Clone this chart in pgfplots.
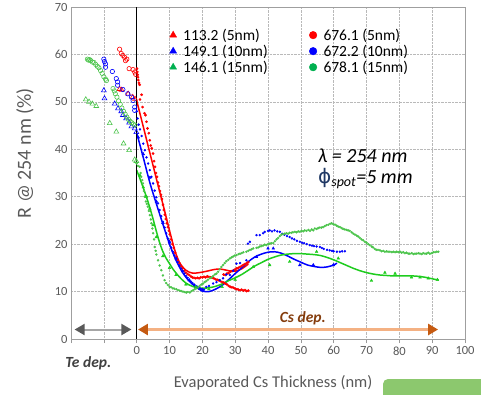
\documentclass[border=0pt]{standalone}
\usepackage{fontspec}
\setmainfont{Carlito}
\newfontfamily\dejavu{DejaVu Sans}
\usepackage{pgfplots}
\pgfplotsset{compat=1.18}
\usetikzlibrary{arrows.meta}
\definecolor{tgray}{HTML}{595959}
\definecolor{cred}{HTML}{FF0000}
\definecolor{cblue}{HTML}{0000FF}
\definecolor{cgreen}{HTML}{1ECC1E}
\definecolor{cgreendot}{HTML}{4CC44C}
\definecolor{lgreen}{HTML}{00B050}
\definecolor{cbrown}{HTML}{843C0C}
\definecolor{corange}{HTML}{C55A11}
\definecolor{lorange}{HTML}{F4B183}
\definecolor{phiblue}{HTML}{1F3864}
\definecolor{btngreen}{HTML}{8CC86E}
\begin{document}
\begin{tikzpicture}[x=1pt,y=1pt]
\begin{axis}[
  at={(71pt,55pt)}, anchor=south west,
  scale only axis, width=394pt, height=332pt,
  xmin=-20, xmax=100, ymin=0, ymax=70,
  xtick={-20,-10,...,100},
  xticklabels={,,0,10,20,30,40,50,60,70,80,90,100},
  ytick={0,10,...,70},
  xtick pos=bottom, xtick align=outside, major tick length=4pt,
  ytick style={draw=none},
  xtick style={gray!80, line width=0.6pt},
  grid=major,
  major grid style={densely dotted, gray!55, line width=0.6pt},
  axis line style={gray!75, line width=0.7pt},
  tick label style={font=\fontsize{12.5pt}{14pt}\selectfont, text=tgray},
  /pgf/number format/assume math mode=true,
  xlabel={Evaporated Cs Thickness (nm)},
  ylabel={R @ 254 nm (\%)},
  xlabel style={font=\fontsize{16.5pt}{18pt}\selectfont, text=tgray, at={(axis description cs:0.513,-0.1325)}, anchor=center},
  ylabel style={font=\fontsize{20pt}{22pt}\selectfont, text=tgray, at={(axis description cs:-0.117,0.56)}, anchor=center},
  clip=false,
  legend columns=2,
  legend style={at={(axis description cs:0.25,0.94)}, anchor=north west,
    draw=none, fill=none, inner sep=0pt,
    font=\fontsize{15.5pt}{17pt}\selectfont,
    nodes={inner sep=1.6pt},
    /tikz/every odd column/.append style={column sep=5pt},
    /tikz/every even column/.append style={column sep=40pt}},
  legend cell align=left,
  legend image code/.code={\draw[mark repeat=2,mark phase=2] plot coordinates {(0pt,0pt)(6pt,0pt)(12pt,0pt)};},
]
% ---- Te dep. region (open markers)
\addplot[only marks, mark=o, mark size=2.2pt, cred, line width=0.6pt, forget plot] coordinates {
(-5.2,61.1)(-4.7,60.2)(-4.2,59.8)(-3.7,59.4)(-3.4,58.7)(-3.0,59.0)(-2.3,57.0)(-1.1,56.8)(-0.6,56.3)(-0.3,55.8)};
\addplot[only marks, mark=triangle, mark size=2.8pt, cred, line width=0.6pt, forget plot] coordinates {
(-5.2,52.7)(-4.6,52.5)(-2.6,51.7)(-1.2,51.0)(-0.5,50.6)};
\addplot[only marks, mark=o, mark size=2.2pt, cblue, line width=0.6pt, forget plot] coordinates {
(-10,59.0)(-9.8,58.5)(-9.5,58.0)(-9.5,57.3)(-7.4,56.4)(-6.2,54.9)(-5.8,54.2)(-5.8,53.5)(-4.2,52.6)(-2.7,51.7)(-1.6,51.0)(-1.1,50.3)(-0.6,48.9)(-0.6,48.2)};
\addplot[only marks, mark=triangle, mark size=2.8pt, cblue, line width=0.6pt, forget plot] coordinates {
(-10,52.4)(-9.8,50.7)(-6.7,49.6)(-5.7,48.6)(-4.7,48.0)(-4.2,47.2)(-3.2,46.5)(-2.3,45.6)(-1.6,44.8)(-0.6,44.4)(-0.1,43.6)};
\addplot[only marks, mark=o, mark size=2.2pt, cgreendot, line width=0.6pt, forget plot] coordinates {
(-15,59.0)(-14.7,58.8)(-14.3,58.9)(-14,58.7)(-13.5,58.4)(-13,58.3)(-12.5,57.9)(-12,57.5)(-11.5,57.2)(-11,56.6)(-10.5,56.0)(-10,55.3)(-9.5,54.8)(-9.2,54.5)
(-7.2,52.8)(-6.8,52.3)(-6.5,51.7)(-6,51.0)(-5.5,50.2)(-5,49.5)(-4.5,48.7)(-4,48.0)(-3.5,47.4)(-3,46.8)(-2.5,46.3)(-2,45.9)(-1.5,45.6)(-1,45.3)(-0.5,45.1)};
\addplot[only marks, mark=triangle, mark size=2.8pt, cgreendot, line width=0.6pt, forget plot] coordinates {
(-15.5,50.5)(-14.5,50.0)(-13.5,49.6)(-12.3,49.1)(-8.2,45.5)(-6.2,43.7)(-4.0,41.2)(-2.3,39.8)(-0.6,37.8)(-0.1,37.5)};
% ---- Cs dep. region: dots (676.x series)
\addplot[only marks, mark=*, mark size=1.15pt, cred, forget plot] coordinates {
(0.1,57.0)(0.2,56.3)(0.3,55.7)(0.4,55.2)(0.5,54.6)(0.7,54.0)(0.9,53.6)(1.0,50.5)(1.5,51.5)(1.8,48.9)(2.4,47.6)(2.7,47.2)(3.0,45.8)(3.3,44.4)(3.7,43.4)(4.0,41.9)(4.3,40.8)(4.6,40.2)(5.0,39.1)(5.3,37.5)(5.6,36.3)(5.9,35.0)(6.2,34.2)(6.5,33.0)(6.8,32.2)(7.1,31.2)(7.4,30.4)(7.7,29.5)(8.0,28.3)(8.3,27.2)(8.6,26.2)(8.9,25.3)(9.2,24.4)(9.5,23.6)(9.8,22.8)(10.1,22.1)(10.5,21.0)(10.9,20.0)(11.3,19.2)(11.7,18.2)(12.1,17.3)(12.5,16.7)(13.0,16.0)(13.5,15.3)(14.0,14.9)(14.5,14.4)(15.0,14.0)(15.5,13.7)(16.0,13.5)(16.5,13.2)(17.0,13.0)(17.5,12.9)(18.0,12.8)(18.5,12.9)(19.0,12.8)(19.5,13.0)(20.0,13.0)(20.5,13.1)(21.0,13.0)(21.5,13.2)(22.0,13.1)(22.5,13.0)(23.0,12.9)(23.5,12.8)(24.0,12.6)(24.5,12.5)(25.0,12.4)(25.5,12.2)(26.0,12.0)(26.5,11.9)(27.0,11.7)(27.5,11.5)(28.0,11.2)(28.5,11.0)(29.0,10.9)(29.5,10.8)(30.0,10.6)(30.5,10.5)(31.0,10.4)(31.5,10.3)(32.0,10.4)(32.5,10.2)(33.0,10.3)(33.5,10.1)(34.0,10.2)
(26.5,13.6)(27.0,13.5)(27.5,13.8)(28.0,13.9)(28.5,14.2)(29.0,14.3)(29.5,14.5)(30.0,14.7)(30.5,14.9)(31.0,15.0)(31.5,15.2)(32.0,15.4)(32.5,15.6)(33.0,15.8)(33.5,16.0)(34.0,16.2)};
\addplot[only marks, mark=*, mark size=1.0pt, cblue, forget plot] coordinates {
(0,48.0)(0.3,46.5)(0.6,45.2)(1,44.2)(1.5,42.8)(2,41.2)(2.5,39.8)(3,38.3)(3.5,37.0)(4,35.6)(4.5,34.2)(5,32.8)(5.5,31.3)(6,29.9)(6.5,28.6)(7,27.2)(7.5,25.9)(8,24.7)(8.5,23.5)(9,22.3)(9.5,21.2)(10,20.2)(10.5,19.3)(11,18.4)(11.5,17.6)(12,16.9)(12.5,16.2)(13,15.5)(13.5,14.9)(14,14.3)(14.5,13.8)(15,13.3)(15.5,12.9)(16,12.5)(16.5,12.1)(17,11.8)(17.5,11.5)(18,11.2)(18.5,11.0)(19,10.8)(19.5,10.6)(20,10.5)(20.5,10.4)(21.2,11.0)(22,11.2)(23.3,11.7)(24.3,12.0)(25.3,12.4)(26.3,12.8)(27.3,13.6)(28.4,13.5)(29.4,14.4)(30.4,15.9)(31.5,16.0)(33.4,16.6)(33.9,20.1)(34.5,20.5)(36.5,21.9)(37.5,21.9)(38.5,22.3)(39,22.6)(40,22.8)(40.5,22.9)(41.2,22.7)(42,22.9)(42.8,22.7)(43.6,22.6)(44.3,22.2)(45,22.0)(45.8,21.7)(46.6,21.5)(47.3,21.2)(48,21.0)(48.8,20.7)(49.7,20.5)(50.4,20.3)(51,20.2)(51.8,20.0)(52.7,19.8)(53.4,19.7)(54,19.6)(54.8,19.5)(55.8,19.4)(56.4,19.2)(57,19.0)(58,18.8)(58.8,18.7)(59.5,18.6)(60,18.5)(61,18.4)(61.9,18.4)(62.6,18.5)(63.4,18.5)};
\addplot[only marks, mark=*, mark size=1.0pt, cgreendot, forget plot] coordinates {
(0,37)(0.4,36.5)(0.9,36.3)(1.2,35)(1.4,34.2)(1.7,33.5)(1.9,32.8)(2.2,31.2)(2.4,30)(2.8,29)(3.1,28.5)(3.4,27.9)(3.7,27)(4,26.1)(4.3,25.2)(4.5,24.4)(4.8,23.3)(5,22.3)(5.3,21)(5.5,19.4)(5.8,18.6)(6,17.8)(6.5,16.6)(7,15.5)(7.5,14.5)(8,13.4)(8.5,12.4)(9,11.8)(9.5,11.4)(10,11.0)(10.5,10.9)(11,10.7)(11.5,10.6)(12.1,10.5)(12.6,10.3)(13.1,10.2)(13.6,10.1)(14.1,10.0)(14.6,9.9)(15.1,9.8)(15.6,9.9)(16.2,9.8)(16.7,10.1)(17.2,10.3)(17.7,10.5)(18.2,10.7)(18.7,10.9)(19.2,11.2)(19.7,11.5)(20.2,11.7)(20.7,12.0)(21.2,12.2)(21.7,12.5)(22.3,12.8)(22.8,13.0)(23.3,13.3)(23.8,13.6)(24.3,13.8)(24.8,14.2)(25.3,14.7)(25.8,15.2)(26.3,15.6)(26.8,16.0)(27.3,16.4)(27.9,16.7)(28.4,17.0)(28.9,17.2)(29.4,17.4)(29.9,17.6)(30.4,17.7)(31,17.9)(31.5,18.0)(32,18.1)(32.5,18.3)(33.4,18.4)(34,18.6)(34.5,18.8)(35,18.9)(35.5,19.1)(36.5,19.2)(37,19.3)(37.5,19.5)(38,19.6)(38.5,19.7)(39,19.9)(39.5,19.8)(40,20.0)(40.5,20.1)(41,20.2)(41.6,20.2)(42.1,20.6)(42.6,21.0)(43.1,21.3)(43.6,21.7)(44.1,22.0)(44.6,22.1)(45.1,22.2)(45.6,22.3)(46.1,22.2)(46.6,22.4)(47.1,22.4)(47.6,22.5)(48.2,22.6)(48.7,22.5)(49.2,22.7)(49.7,22.6)(50.2,22.8)(50.7,22.7)(51.2,22.9)(51.7,22.8)(52.3,23.0)(52.8,22.8)(53.3,23.1)(53.8,22.9)(54.3,23.3)(54.8,23.2)(55.3,23.4)(55.8,23.5)(56.3,23.5)(56.8,23.6)(57.3,23.8)(57.8,24.0)(58.4,24.1)(58.9,24.3)(59.4,24.4)(59.9,24.2)(60.4,24.1)(60.9,23.9)(61.4,23.7)(61.9,23.6)(62.4,23.4)(62.9,23.2)(63.4,23.1)(63.9,23.0)(64.4,22.9)(64.9,22.8)(65.5,22.5)(66,22.2)(66.5,22.0)(67,21.8)(67.5,21.6)(68,21.3)(68.5,21.0)(69,20.8)(69.5,20.5)(70,20.3)(70.5,20.0)(71,19.8)(71.6,19.5)(72,19.3)(72.5,19.0)(73,18.8)(73.5,18.8)(74.1,18.7)(74.6,18.5)(75.1,18.6)(75.6,18.4)(76.1,18.5)(76.6,18.4)(77.1,18.4)(77.7,18.3)(78.2,18.4)(78.7,18.3)(79.2,18.4)(79.7,18.3)(80.2,18.4)(80.7,18.2)(81.2,18.3)(81.7,18.1)(82.2,18.2)(82.7,18.0)(83.2,18.0)(83.8,18.1)(84.3,17.9)(84.8,18.0)(85.3,18.0)(85.8,18.1)(86.3,18.0)(86.8,17.9)(87.3,18.1)(87.8,18.0)(88.3,18.0)(88.8,18.2)(89.3,18.0)(89.9,18.1)(90.4,18.3)(90.9,18.3)(91.4,18.4)(91.9,18.4)};
% ---- Cs dep. region: small triangles (113/149/146 series)
\addplot[only marks, mark=triangle*, mark size=1.6pt, cblue, forget plot] coordinates {
(0.5,42.5)(2,39)(4,34)(6,29)(8,24.5)(10,20.5)(12,17)(14,14.3)(16,12.4)(18,11.1)(20,10.3)(36.5,17.3)(40,19.1)(41.6,19.1)(49.7,15.6)(53.8,15.6)(59.9,15.6)};
\addplot[only marks, mark=triangle*, mark size=1.6pt, cgreen, forget plot] coordinates {
(1,34.5)(2,32)(3,30)(4,27.5)(5,24)(6,21.5)(8,17.5)(10,15)(12,13.5)(15,11.5)(18,11)(22,10.5)(26,11)(30,12.5)(35.5,15.2)(40.5,15.6)(46.6,16.3)(54.8,18.4)(61.4,17.0)(71.5,12.3)(75.6,14.0)(78.7,13.8)(83.7,13.0)(86.3,13.0)(88.8,12.8)(91.6,12.5)};
% ---- fit lines
\addplot[cred, line width=1.5pt, smooth, forget plot] coordinates {
(0,50.3)(2,44.8)(4,39.3)(6,33.8)(8,28.4)(10,22.9)(11,20.2)(12,17.9)(13,16.2)(14,15.2)(15,14.5)(16,14.1)(17,13.9)(18,13.9)(20,14.1)(22,14.4)(24,14.7)(26,14.7)(28,14.4)(30,14.3)(32,14.8)(34,15.8)};
\addplot[cblue, line width=1.5pt, smooth, forget plot] coordinates {
(0,43.5)(2,38.3)(4,33)(6,28.5)(8,24.2)(10,20)(12,16.6)(14,14.0)(16,12.2)(18,11.0)(20,10.1)(22,10.0)(24,10.5)(26,11.3)(28,12.5)(30,13.8)(32,15.0)(34,16.3)(36,17.3)(38,17.9)(40,18.3)(42,18.4)(44,18.1)(46,17.5)(48,16.8)(50,16.2)(52,15.6)(54,15.3)(56,15.1)(58,15.2)(60,15.6)(61,16.0)};
\addplot[cgreen, line width=1.5pt, smooth, forget plot] coordinates {
(0,35.6)(1,33.8)(2,31.9)(3,29.9)(4,27.7)(5,25.3)(6,22.7)(7,20.3)(8,18.4)(9,17.0)(10,15.9)(11,14.8)(12,13.9)(13,13.1)(14,12.4)(15,11.8)(16,11.4)(17,11.1)(18,10.9)(20,10.7)(22,10.8)(24,11.1)(26,11.6)(28,12.3)(30,12.9)(32,13.6)(34,14.5)(36,15.4)(38,16.1)(40,16.8)(42,17.3)(44,17.7)(46,17.9)(48,18.0)(50,18.0)(52,17.9)(54,17.8)(56,17.6)(58,17.2)(60,16.7)(62,16.1)(64,15.5)(66,14.9)(68,14.4)(70,14.0)(72,13.7)(74,13.5)(76,13.4)(78,13.3)(80,13.3)(82,13.3)(84,13.3)(86,13.2)(88,13.0)(90,12.7)(92,12.4)};
% ---- legend
\addlegendimage{only marks, mark=triangle*, mark size=4pt, cred}
\addlegendentry{113.2 (5nm)}
\addlegendimage{only marks, mark=*, mark size=3.8pt, cred}
\addlegendentry{676.1 (5nm)}
\addlegendimage{only marks, mark=triangle*, mark size=4pt, cblue}
\addlegendentry{149.1 (10nm)}
\addlegendimage{only marks, mark=*, mark size=3.8pt, cblue}
\addlegendentry{672.2 (10nm)}
\addlegendimage{only marks, mark=triangle*, mark size=4pt, lgreen}
\addlegendentry{146.1 (15nm)}
\addlegendimage{only marks, mark=*, mark size=3.8pt, lgreen}
\addlegendentry{678.1 (15nm)}
% ---- annotations
\draw[black, line width=1.3pt] (axis cs:0,0) -- (axis cs:0,70);
\draw[gray!70, line width=2pt, {Triangle[length=10pt,width=11pt,color=tgray]}-{Triangle[length=10pt,width=11pt,color=tgray]}] (axis cs:-18.9,2) -- (axis cs:-1.6,2);
\draw[lorange, line width=2.5pt, {Triangle[length=10pt,width=11pt,color=corange]}-{Triangle[length=10pt,width=11pt,color=corange]}] (axis cs:0.4,2) -- (axis cs:91.8,2);
\node[font=\fontsize{15.5pt}{17pt}\selectfont\bfseries\itshape, text=cbrown] at (axis cs:50.6,4.4) {Cs dep.};
\node[font=\fontsize{15.5pt}{17pt}\selectfont\bfseries\itshape, text=black!75] at (axis description cs:0.044,-0.072) {Te dep.};
\node[font=\fontsize{20pt}{22pt}\selectfont\itshape, anchor=west, inner sep=0pt] at (axis cs:55.2,38.7) {λ = 254 nm};
\node[font=\fontsize{20pt}{22pt}\selectfont, anchor=west, inner sep=0pt] at (axis cs:55.2,33.9) {\textcolor{phiblue}{\dejavu ϕ}\textsubscript{\itshape spot}\itshape=5 mm};
\end{axis}
\fill[btngreen, rounded corners=5pt] (383pt,15pt) rectangle (520pt,-30pt);
\pgfresetboundingbox
\useasboundingbox (0,0) rectangle (481pt,394pt);
\end{tikzpicture}
\end{document}
